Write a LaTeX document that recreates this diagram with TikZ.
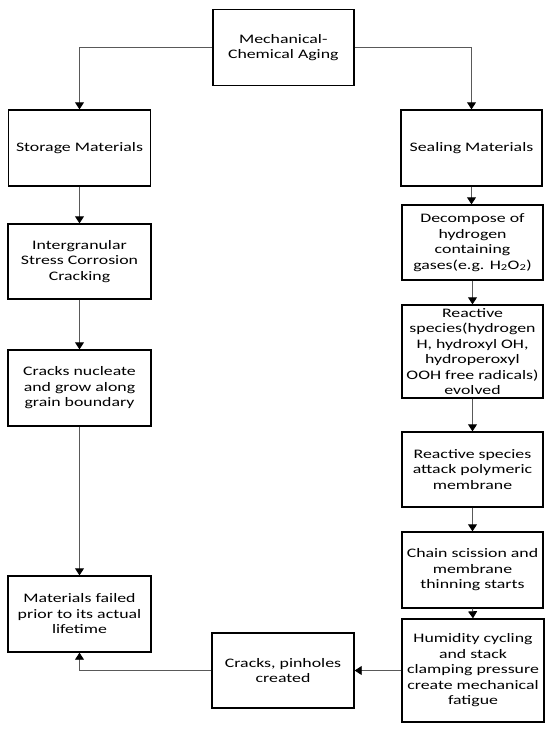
\documentclass[tikz,border=0pt]{standalone}
\usepackage{fontspec}
\setmainfont{Carlito}[FakeStretch=1.37]
\usetikzlibrary{arrows.meta}
\begin{document}
\begin{tikzpicture}[x=1pt,y=-1pt,
  box/.style={draw=black,line width=1.4pt,align=center,inner sep=0pt,
    font=\fontsize{13}{15.5}\selectfont},
  conn/.style={draw=black!65,line width=0.9pt,-{Triangle[width=9pt,length=7pt,color=black,fill=black]}}]
\useasboundingbox[fill=white] (0,0) rectangle (550,729);
\node[box,minimum width=141pt,minimum height=76pt] (top) at (283.3,47.5) {Mechanical-\\Chemical Aging};
\node[box,minimum width=142pt,minimum height=76pt] (storage) at (79.5,148) {Storage Materials};
\node[box,minimum width=141pt,minimum height=76pt] (sealing) at (471.5,148) {Sealing Materials};
\node[box,minimum width=143pt,minimum height=75pt] (inter) at (79.5,261.5) {Intergranular\\Stress Corrosion\\Cracking};
\node[box,minimum width=143pt,minimum height=76pt] (nucleate) at (79.5,388) {Cracks nucleate\\and grow along\\grain boundary};
\node[box,minimum width=143pt,minimum height=76pt] (failed) at (79.5,614) {Materials failed\\prior to its actual\\lifetime};
\node[box,minimum width=141pt,minimum height=75pt] (decompose) at (472.5,242.5) {Decompose of\\hydrogen\\containing\\gases(e.g. H\textsubscript{2}O\textsubscript{2})};
\node[box,minimum width=141pt,minimum height=93pt] (reactive) at (472.5,351.5) {Reactive\\species(hydrogen\\H, hydroxyl OH,\\hydroperoxyl\\OOH free radicals)\\evolved};
\node[box,minimum width=141pt,minimum height=75pt] (attack) at (472.5,469.5) {Reactive species\\attack polymeric\\membrane};
\node[box,minimum width=141pt,minimum height=76pt] (chain) at (472.5,570) {Chain scission and\\membrane\\thinning starts};
\node[box,minimum width=142pt,minimum height=103pt] (humidity) at (473,670.5) {Humidity cycling\\and stack\\clamping pressure\\create mechanical\\fatigue};
\node[box,minimum width=142pt,minimum height=75pt] (pinholes) at (283,670.5) {Cracks, pinholes\\created};
\draw[conn] (top.west) -| (storage.north);
\draw[conn] (top.east) -| (sealing.north);
\draw[conn] (storage.south) -- (inter.north);
\draw[conn] (inter.south) -- (nucleate.north);
\draw[conn] (nucleate.south) -- (failed.north);
\draw[conn] (sealing.south) -- (sealing.south |- decompose.north);
\draw[conn] (decompose.south) -- (reactive.north);
\draw[conn] (reactive.south) -- (attack.north);
\draw[conn] (attack.south) -- (chain.north);
\draw[conn] (chain.south) -- (humidity.north);
\draw[conn] (humidity.west) -- (pinholes.east);
\draw[conn] (pinholes.west) -| (failed.south);
\end{tikzpicture}
\end{document}
